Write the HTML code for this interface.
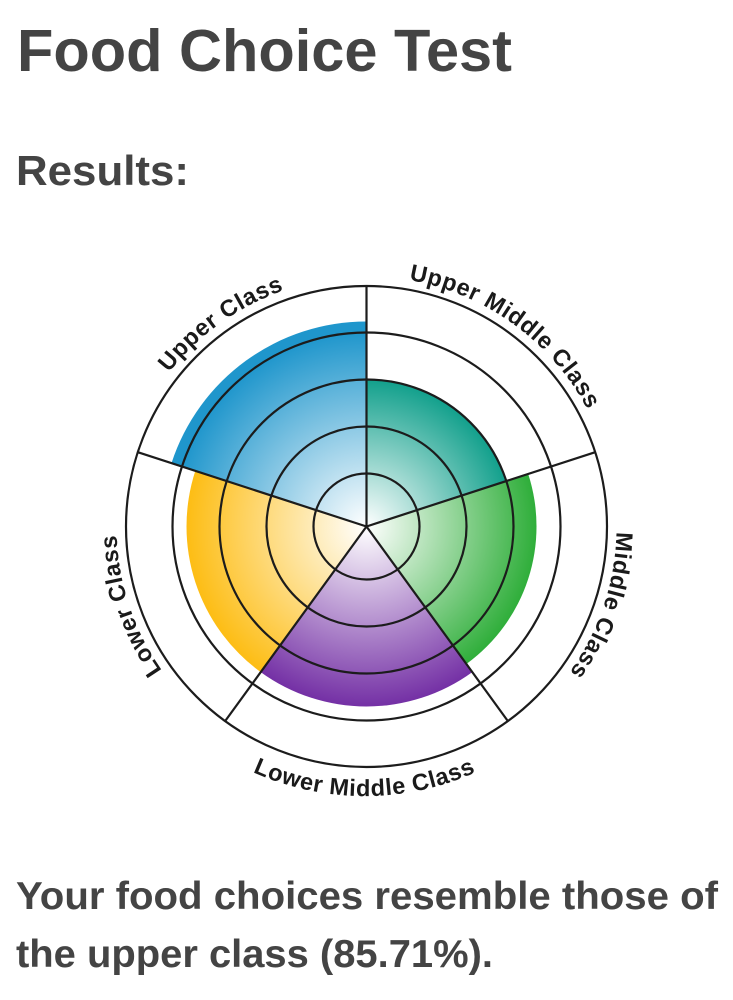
<!DOCTYPE html>
<html>
<head>
<meta charset="utf-8">
<style>
html,body{margin:0;padding:0;background:#fff;width:733px;height:1000px;overflow:hidden}
svg{display:block}
text{font-family:"Liberation Sans",sans-serif;font-weight:700}
.h{fill:#444}
.l{fill:#1a1a1a;font-size:23.5px;letter-spacing:.6px}
</style>
</head>
<body>
<svg width="733" height="1000" viewBox="0 0 733 1000" xmlns="http://www.w3.org/2000/svg">
<defs>
<radialGradient id="gb" gradientUnits="userSpaceOnUse" cx="366.5" cy="526.5" r="205"><stop offset="0" stop-color="#fff"/><stop offset=".95" stop-color="#1f96cc"/><stop offset="1" stop-color="#1f96cc"/></radialGradient>
<radialGradient id="gt" gradientUnits="userSpaceOnUse" cx="366.5" cy="526.5" r="147"><stop offset="0" stop-color="#fff"/><stop offset="1" stop-color="#12a08c"/></radialGradient>
<radialGradient id="gg" gradientUnits="userSpaceOnUse" cx="366.5" cy="526.5" r="170"><stop offset="0" stop-color="#fff"/><stop offset="1" stop-color="#2fae3a"/></radialGradient>
<radialGradient id="gp" gradientUnits="userSpaceOnUse" cx="366.5" cy="526.5" r="180"><stop offset="0" stop-color="#fff"/><stop offset="1" stop-color="#7430a5"/></radialGradient>
<radialGradient id="gy" gradientUnits="userSpaceOnUse" cx="366.5" cy="526.5" r="180"><stop offset="0" stop-color="#fff"/><stop offset="1" stop-color="#fdbd14"/></radialGradient>
<path id="p1" d="M 129.3 446 A 250 250 0 0 1 366.5 276.5"/>
<path id="p2" d="M 366.5 276.5 A 250 250 0 0 1 604.3 449.2"/>
<path id="p3" d="M 608 461.8 A 250 250 0 0 1 520.4 723.5"/>
<path id="p4" d="M 212.6 723.5 A 250 250 0 0 1 125 461.8"/>
<path id="p5" d="M 204.6 743.9 A 271 271 0 0 0 524.4 743.9"/>
</defs>

<text class="h" x="17" y="71" font-size="59" textLength="495" lengthAdjust="spacingAndGlyphs">Food Choice Test</text>
<text class="h" x="16" y="185" font-size="42" textLength="173" lengthAdjust="spacingAndGlyphs">Results:</text>

<!-- wedges -->
<path d="M366.5 526.5 L171.5 463.1 A205 205 0 0 1 366.5 321.5 Z" fill="url(#gb)"/>
<path d="M366.5 526.5 L366.5 379.5 A147 147 0 0 1 506.3 481.1 Z" fill="url(#gt)"/>
<path d="M366.5 526.5 L528.2 473.96 A170 170 0 0 1 466.4 664 Z" fill="url(#gg)"/>
<path d="M366.5 526.5 L472.3 672.1 A180 180 0 0 1 260.7 672.1 Z" fill="url(#gp)"/>
<path d="M366.5 526.5 L260.7 672.1 A180 180 0 0 1 195.3 470.9 Z" fill="url(#gy)"/>

<!-- grid -->
<g fill="none" stroke="#1c1c1c" stroke-width="2.2">
<circle cx="366.5" cy="526.5" r="240.5"/>
<circle cx="366.5" cy="526.5" r="194"/>
<circle cx="366.5" cy="526.5" r="147"/>
<circle cx="366.5" cy="526.5" r="100"/>
<circle cx="366.5" cy="526.5" r="53"/>
<path d="M366.5 526.5 V286 M366.5 526.5 L595.2 452.2 M366.5 526.5 L507.9 721.1 M366.5 526.5 L225.1 721.1 M366.5 526.5 L137.8 452.2"/>
</g>

<!-- labels -->
<text class="l"><textPath href="#p1" startOffset="50%" text-anchor="middle">Upper Class</textPath></text>
<text class="l"><textPath href="#p2" startOffset="50%" text-anchor="middle">Upper Middle Class</textPath></text>
<text class="l"><textPath href="#p3" startOffset="50%" text-anchor="middle">Middle Class</textPath></text>
<text class="l"><textPath href="#p4" startOffset="50%" text-anchor="middle">Lower Class</textPath></text>
<text class="l"><textPath href="#p5" startOffset="50%" text-anchor="middle">Lower Middle Class</textPath></text>

<text class="h" x="16" y="909" font-size="39" textLength="702" lengthAdjust="spacingAndGlyphs">Your food choices resemble those of</text>
<text class="h" x="16" y="967" font-size="39" textLength="477" lengthAdjust="spacingAndGlyphs">the upper class (85.71%).</text>
</svg>
</body>
</html>
